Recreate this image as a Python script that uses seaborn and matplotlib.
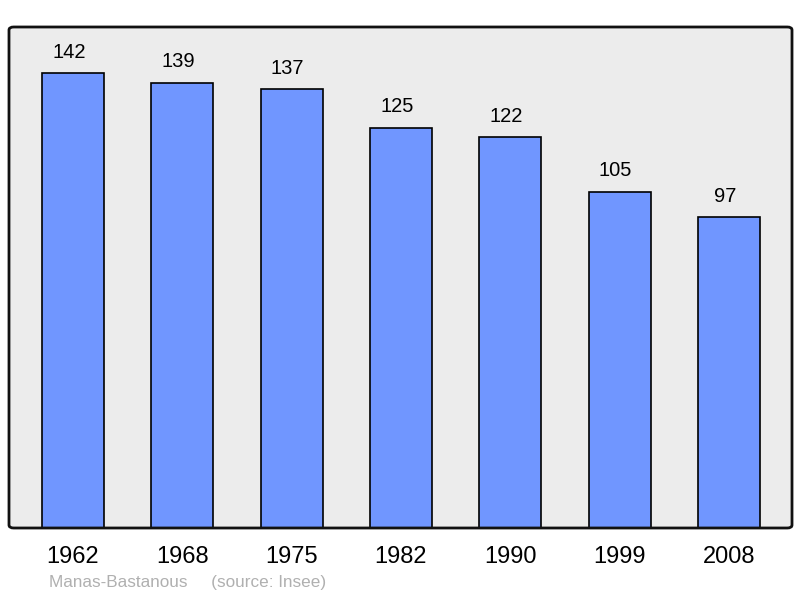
import matplotlib
matplotlib.use("Agg")
import matplotlib.pyplot as plt
import seaborn as sns
import pandas as pd
from matplotlib.patches import FancyBboxPatch

# Population data
years = ["1962", "1968", "1975", "1982", "1990", "1999", "2008"]
population = [142, 139, 137, 125, 122, 105, 97]

df = pd.DataFrame({"year": years, "population": population})

sns.set_style("white")
plt.rcParams["font.family"] = ["Liberation Sans", "DejaVu Sans"]

fig = plt.figure(figsize=(8, 5.98), dpi=100)
ax = fig.add_axes([9 / 800, 70 / 598, 783 / 800, 501 / 598])
ax.set_facecolor("#ececec")

sns.barplot(data=df, x="year", y="population", color="#7096ff",
            saturation=1, width=0.567, edgecolor="black", linewidth=1.2, ax=ax)

for i, v in enumerate(population):
    ax.annotate(str(v), (i, v), xytext=(-3, 11), textcoords="offset points",
                ha="center", va="baseline", fontsize=14.5, color="black")

ax.set_xlim(-0.585, 6.576)
ax.set_ylim(0, 156.4)
ax.set_yticks([])
ax.set_xlabel("")
ax.set_ylabel("")
ax.tick_params(axis="x", length=0, pad=13, labelsize=17, labelcolor="black")

for s in ax.spines.values():
    s.set_visible(False)
frame = FancyBboxPatch((0, 0), 1, 1, boxstyle="round,pad=0,rounding_size=0.006",
                       transform=ax.transAxes, fill=False, edgecolor="#111111",
                       linewidth=2, clip_on=False, zorder=5)
ax.add_patch(frame)

fig.text(49 / 800, 1 - 583 / 598, "Manas-Bastanous     (source: Insee)",
         color="#b0b0b0", fontsize=12.3, va="center", ha="left")

fig.savefig("out.png", dpi=100)
